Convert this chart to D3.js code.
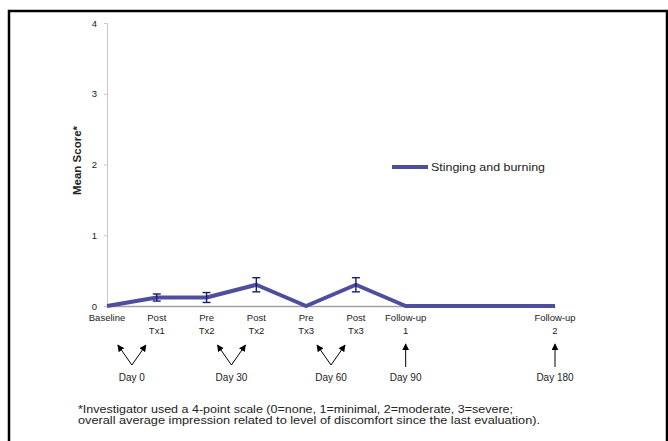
<!DOCTYPE html>
<html>
<head>
<meta charset="utf-8">
<script src="https://cdn.jsdelivr.net/npm/d3@7"></script>
<style>
  html, body { margin: 0; padding: 0; background: #fff; }
  svg { display: block; font-family: "Liberation Sans", Arial, sans-serif; }
</style>
</head>
<body>
<svg id="chart" width="668" height="441"></svg>
<script>
// Visit labels (two lines each) and their slot on the visit axis
const visitLine1 = ["Baseline", "Post", "Pre", "Post", "Pre", "Post", "Follow-up", "Follow-up"];
const visitLine2 = ["", "Tx1", "Tx2", "Tx2", "Tx3", "Tx3", "1", "2"];
const visitSlot = [0, 1, 2, 3, 4, 5, 6, 9];

// Mean score and error (±) for stinging and burning
const meanScore = [0, 0.12, 0.12, 0.3, 0, 0.3, 0, 0];
const scoreError = [0, 0.05, 0.07, 0.1, 0, 0.1, 0, 0];

// Y ticks
const yTicks = [0, 1, 2, 3, 4];

// Study-day annotations: label and the visit slots they point to
const dayLabels = ["Day 0", "Day 30", "Day 60", "Day 90", "Day 180"];
const dayTargets = [[0, 1], [2, 3], [4, 5], [6], [9]];

const seriesName = "Stinging and burning";
const yTitle = "Mean Score*";
const footnote = [
  "*Investigator used a 4-point scale (0=none, 1=minimal, 2=moderate, 3=severe;",
  "overall average impression related to level of discomfort since the last evaluation)."
];

const svg = d3.select("#chart");

// Frame
svg.append("rect")
  .attr("x", 9).attr("y", 11)
  .attr("width", 658).attr("height", 460)
  .attr("fill", "none").attr("stroke", "#000").attr("stroke-width", 2.5);

const x = d3.scaleLinear().domain([0, 9]).range([107, 555]);
const y = d3.scaleLinear().domain([0, 4]).range([306, 23]);

// Y axis
const yAxis = d3.axisLeft(y).tickValues(yTicks).tickFormat(d3.format("d")).tickSize(3).tickPadding(7);
const gy = svg.append("g").attr("transform", `translate(${x(0)},0)`).call(yAxis);
gy.select(".domain").attr("stroke", "#c8c8c8");
gy.selectAll(".tick line").attr("stroke", "#c8c8c8");
gy.selectAll(".tick text").attr("font-size", 9.5).attr("fill", "#222");

// X axis baseline
const xAxis = d3.axisBottom(x).tickValues([]).tickSizeOuter(0);
const gx = svg.append("g").attr("transform", `translate(0,${y(0)})`).call(xAxis);
gx.select(".domain").attr("stroke", "#a0a0a0").attr("stroke-width", 1.5);

// Y title
svg.append("text")
  .attr("transform", `translate(81,${(y(0) + y(4)) / 2 - 4}) rotate(-90)`)
  .attr("text-anchor", "middle")
  .attr("font-size", 11.5)
  .attr("font-weight", "bold")
  .attr("fill", "#222")
  .text(yTitle);

// Visit labels
const labels = svg.append("g").attr("font-size", 9.5).attr("fill", "#222").attr("text-anchor", "middle");
visitSlot.forEach((s, i) => {
  const t = labels.append("text").attr("x", x(s)).attr("y", 321);
  t.append("tspan").attr("x", x(s)).attr("dy", 0).text(visitLine1[i]);
  if (visitLine2[i]) t.append("tspan").attr("x", x(s)).attr("dy", 13).text(visitLine2[i]);
});

// Data line
const pts = visitSlot.map((s, i) => ({ s, v: meanScore[i], e: scoreError[i] }));
const line = d3.line().x(d => x(d.s)).y(d => y(d.v));
svg.append("path")
  .datum(pts)
  .attr("d", line)
  .attr("fill", "none")
  .attr("stroke", "#4e4e9e")
  .attr("stroke-width", 4)
  .attr("stroke-linejoin", "round");

// Error bars
const eb = svg.append("g").attr("stroke", "#1c1c6e").attr("stroke-width", 1.4);
pts.filter(d => d.e > 0).forEach(d => {
  const cx = x(d.s);
  eb.append("line").attr("x1", cx).attr("x2", cx).attr("y1", y(d.v - d.e)).attr("y2", y(d.v + d.e));
  eb.append("line").attr("x1", cx - 4).attr("x2", cx + 4).attr("y1", y(d.v + d.e)).attr("y2", y(d.v + d.e));
  eb.append("line").attr("x1", cx - 4).attr("x2", cx + 4).attr("y1", y(d.v - d.e)).attr("y2", y(d.v - d.e));
});

// Legend
svg.append("line")
  .attr("x1", 392).attr("x2", 428).attr("y1", 167).attr("y2", 167)
  .attr("stroke", "#4e4e9e").attr("stroke-width", 4);
svg.append("text")
  .attr("x", 431).attr("y", 171)
  .attr("font-size", 11).attr("fill", "#222")
  .attr("textLength", 114).attr("lengthAdjust", "spacingAndGlyphs")
  .text(seriesName);

// Arrow markers
svg.append("defs").append("marker")
  .attr("id", "head")
  .attr("viewBox", "0 0 10 10")
  .attr("refX", 9).attr("refY", 5)
  .attr("markerWidth", 7).attr("markerHeight", 7)
  .attr("markerUnits", "userSpaceOnUse")
  .attr("orient", "auto")
  .append("path").attr("d", "M0,0 L10,5 L0,10 z").attr("fill", "#000");

// Day annotations
const ann = svg.append("g");
dayTargets.forEach((tg, i) => {
  const mid = d3.mean(tg.map(s => x(s)));
  if (tg.length === 2) {
    const apexY = 365, tipY = 345, spread = 14;
    [-1, 1].forEach(sgn => {
      ann.append("line")
        .attr("x1", mid).attr("y1", apexY)
        .attr("x2", mid + sgn * spread).attr("y2", tipY)
        .attr("stroke", "#000").attr("stroke-width", 1)
        .attr("marker-end", "url(#head)");
    });
  } else {
    ann.append("line")
      .attr("x1", mid).attr("y1", 367)
      .attr("x2", mid).attr("y2", 344)
      .attr("stroke", "#000").attr("stroke-width", 1)
      .attr("marker-end", "url(#head)");
  }
  ann.append("text")
    .attr("x", mid).attr("y", 381)
    .attr("text-anchor", "middle")
    .attr("font-size", 10).attr("fill", "#222")
    .text(dayLabels[i]);
});

// Footnote
const footLen = [435, 462];
svg.append("g").attr("font-size", 10).attr("fill", "#222")
  .selectAll("text").data(footnote).join("text")
  .attr("x", 78).attr("y", (d, i) => 413 + i * 11)
  .attr("textLength", (d, i) => footLen[i])
  .attr("lengthAdjust", "spacingAndGlyphs")
  .text(d => d);
</script>
</body>
</html>
